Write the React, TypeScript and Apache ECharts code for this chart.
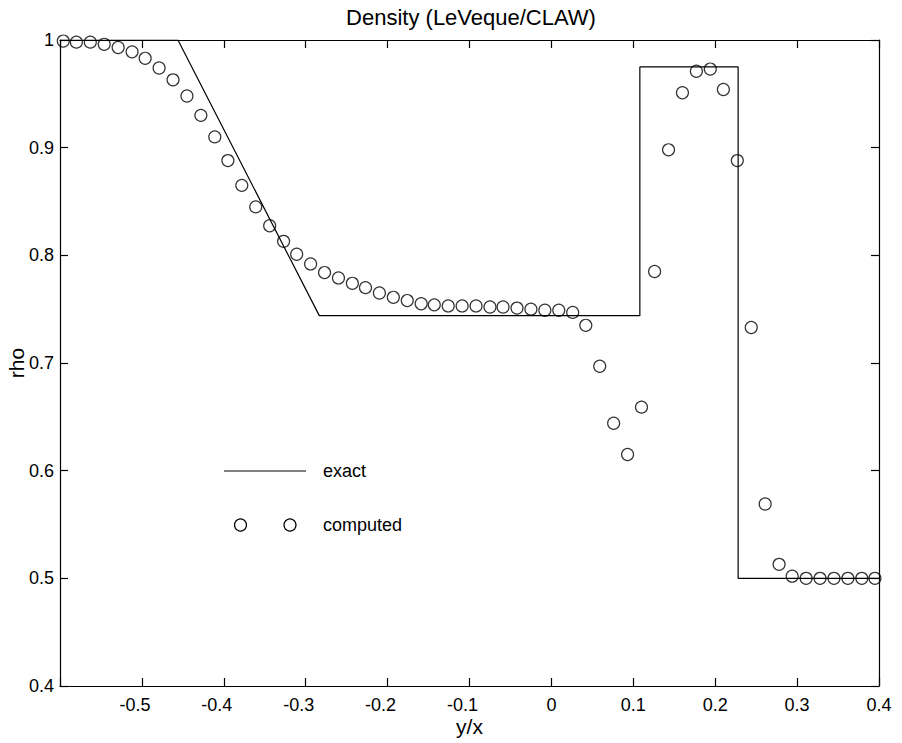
import React, { useEffect, useRef } from "react";
import * as echarts from "echarts";

const TITLE = "Density (LeVeque/CLAW)";
const X_NAME = "y/x";
const Y_NAME = "rho";

// exact solution (piecewise linear)
const exactX = [-0.6, -0.456, -0.2834, 0.108, 0.108, 0.228, 0.228, 0.4];
const exactY = [1.0, 1.0, 0.744, 0.744, 0.975, 0.975, 0.5, 0.5];

// computed solution (cell values)
const computedX = [
  -0.596, -0.58, -0.563, -0.546, -0.529, -0.512, -0.496, -0.479, -0.462, -0.445,
  -0.428, -0.411, -0.395, -0.378, -0.361, -0.344, -0.327, -0.311, -0.294, -0.277,
  -0.26, -0.243, -0.227, -0.21, -0.193, -0.176, -0.159, -0.143, -0.126, -0.109,
  -0.092, -0.075, -0.059, -0.042, -0.025, -0.008, 0.009, 0.026, 0.042, 0.059,
  0.076, 0.093, 0.11, 0.126, 0.143, 0.16, 0.177, 0.194, 0.21, 0.227,
  0.244, 0.261, 0.278, 0.294, 0.311, 0.328, 0.345, 0.362, 0.379, 0.395,
];
const computedY = [
  0.999, 0.998, 0.998, 0.996, 0.993, 0.989, 0.983, 0.974, 0.963, 0.948,
  0.93, 0.91, 0.888, 0.865, 0.845, 0.8275, 0.813, 0.801, 0.792, 0.784,
  0.779, 0.774, 0.77, 0.765, 0.761, 0.758, 0.755, 0.754, 0.753, 0.753,
  0.753, 0.752, 0.752, 0.751, 0.75, 0.749, 0.749, 0.747, 0.735, 0.697,
  0.644, 0.615, 0.659, 0.785, 0.898, 0.951, 0.971, 0.973, 0.954, 0.888,
  0.733, 0.569, 0.513, 0.502, 0.5, 0.5, 0.5, 0.5, 0.5, 0.5,
];

const LEGEND_LABELS = ["exact", "computed"];

const FONT = "'Liberation Sans', Arial, Helvetica, sans-serif";

export default function App() {
  const ref = useRef<HTMLDivElement>(null);

  useEffect(() => {
    if (!ref.current) return;
    const chart = echarts.init(ref.current, null, { renderer: "svg" });

    const xFmt = (v: number) => {
      if (v < -0.55) return "";
      if (Math.abs(v) < 1e-9) return "0";
      const s = v.toFixed(1);
      return v < 0 ? `{n|${s}}{g| }` : `{n|${s}}`;
    };
    const yFmt = (v: number) => {
      if (Math.abs(v - 1) < 1e-9) return "1";
      return v.toFixed(1);
    };

    const axisLine = { show: true, onZero: false, lineStyle: { color: "#000", width: 1.2 } };
    const axisTick = { show: true, inside: true, length: 8, lineStyle: { color: "#000", width: 1.2 } };

    chart.setOption({
      animation: false,
      backgroundColor: "#fff",
      textStyle: { fontFamily: FONT },
      title: {
        text: TITLE,
        left: 471,
        top: 6,
        padding: 0,
        textAlign: "center",
        textStyle: { fontFamily: FONT, fontSize: 22, fontWeight: "normal", color: "#000" },
      },
      grid: { left: 60, right: 23, top: 40, bottom: 57, containLabel: false, outerBoundsMode: "none" },
      xAxis: [
        {
          type: "value",
          min: -0.6,
          max: 0.4,
          interval: 0.1,
          name: X_NAME,
          nameLocation: "middle",
          nameGap: 30,
          nameMoveOverlap: false,
          nameTextStyle: { fontFamily: FONT, fontSize: 21, color: "#000" },
          axisLine,
          axisTick,
          splitLine: { show: false },
          axisLabel: {
            margin: 10,
            color: "#000",
            fontSize: 18,
            fontFamily: FONT,
            formatter: xFmt,
            rich: {
              n: { fontSize: 18, fontFamily: FONT, color: "#000" },
              g: { width: 14, fontSize: 18, fontFamily: FONT },
            },
          },
        },
        {
          type: "value",
          position: "top",
          min: -0.6,
          max: 0.4,
          interval: 0.1,
          axisLine,
          axisTick,
          axisLabel: { show: false },
          splitLine: { show: false },
        },
      ],
      yAxis: [
        {
          type: "value",
          position: "left",
          min: 0.4,
          max: 1,
          interval: 0.1,
          name: Y_NAME,
          nameLocation: "middle",
          nameGap: 33,
          nameMoveOverlap: false,
          nameTextStyle: { fontFamily: FONT, fontSize: 21, color: "#000" },
          axisLine,
          axisTick,
          splitLine: { show: false },
          axisLabel: { margin: 6, color: "#000", fontSize: 18, fontFamily: FONT, formatter: yFmt },
        },
        {
          type: "value",
          position: "right",
          min: 0.4,
          max: 1,
          interval: 0.1,
          axisLine,
          axisTick,
          axisLabel: { show: false },
          splitLine: { show: false },
        },
      ],
      series: [
        {
          name: LEGEND_LABELS[0],
          type: "line",
          xAxisIndex: 0,
          yAxisIndex: 0,
          data: exactX.map((x, i) => [x, exactY[i]]),
          showSymbol: false,
          symbol: "none",
          lineStyle: { color: "#000", width: 1.2 },
          silent: true,
        },
        {
          name: LEGEND_LABELS[1],
          type: "scatter",
          xAxisIndex: 0,
          yAxisIndex: 0,
          data: computedX.map((x, i) => [x, computedY[i]]),
          symbol: "circle",
          symbolSize: 12,
          itemStyle: { color: "rgba(0,0,0,0)", borderColor: "#000", borderWidth: 1.2 },
          silent: true,
        },
      ],
      graphic: [
        {
          type: "line",
          shape: { x1: 224, y1: 471, x2: 306, y2: 471 },
          style: { stroke: "#000", lineWidth: 1.2 },
        },
        {
          type: "text",
          x: 323,
          y: 471,
          style: { text: LEGEND_LABELS[0], fontSize: 18, fontFamily: FONT, fill: "#000", textVerticalAlign: "middle" },
        },
        {
          type: "circle",
          shape: { cx: 240.5, cy: 525, r: 6 },
          style: { fill: "none", stroke: "#000", lineWidth: 1.2 },
        },
        {
          type: "circle",
          shape: { cx: 290, cy: 525, r: 6 },
          style: { fill: "none", stroke: "#000", lineWidth: 1.2 },
        },
        {
          type: "text",
          x: 323,
          y: 525,
          style: { text: LEGEND_LABELS[1], fontSize: 18, fontFamily: FONT, fill: "#000", textVerticalAlign: "middle" },
        },
      ],
    });

    return () => chart.dispose();
  }, []);

  return (
    <div
      ref={ref}
      style={{ position: "fixed", left: 0, top: 0, width: 902, height: 743, background: "#fff" }}
    />
  );
}
